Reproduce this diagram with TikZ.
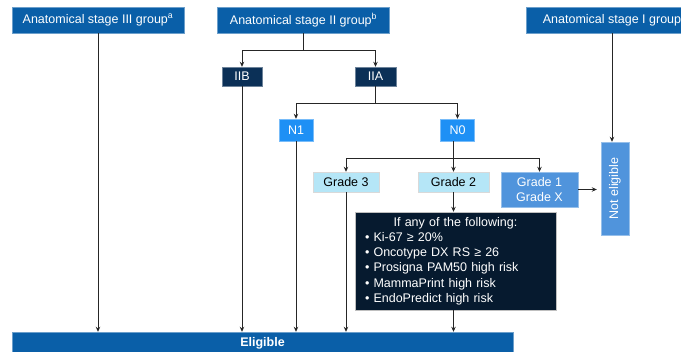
\documentclass[tikz,border=0pt]{standalone}
\usepackage{fontspec}
\setmainfont{Liberation Sans}
\usetikzlibrary{arrows.meta,positioning,calc}
\definecolor{sBlue}{HTML}{0A5FA8}
\definecolor{sNavy}{HTML}{0B3057}
\definecolor{sInk}{HTML}{061A2F}
\definecolor{sBright}{HTML}{1E90F5}
\definecolor{sMid}{HTML}{5094DC}
\definecolor{sPale}{HTML}{B5E6F7}
\tikzset{
  >={Stealth[length=5pt,width=4.5pt]},
  stagebox/.style={rectangle,fill=sBlue,draw=sBlue!60!white,text=white,align=center,inner sep=0pt,minimum width=172pt,minimum height=26pt},
  subbox/.style  ={rectangle,fill=sNavy,draw=sNavy!60!white,text=white,inner sep=0pt,minimum height=19pt},
  nbox/.style    ={rectangle,fill=sBright,draw=sBright!60!white,text=white,inner sep=0pt,minimum width=34pt,minimum height=22pt},
  gradebox/.style={rectangle,fill=sPale,draw=gray!30,text=black,inner sep=0pt,minimum height=20pt},
  outbox/.style  ={rectangle,fill=sMid,draw=sMid!60!white,text=white,align=center,inner sep=0pt},
  critbox/.style ={rectangle,fill=sInk,draw=gray!50,text=white,align=left,text width=181pt,inner xsep=10pt,inner ysep=0pt,minimum height=98pt},
  link/.style    ={->,line width=0.8pt,black!85},
  wire/.style    ={line width=0.8pt,black!85},
}

\begin{document}
\begin{tikzpicture}[x=1pt,y=-1pt,font=\fontsize{12.5}{15.2}\selectfont]
  \useasboundingbox (0,0) rectangle (681,352);

  % stage groups
  \node[stagebox] (s3) at (98,20)    {Anatomical stage III group\textsuperscript{a}};
  \node[stagebox] (s2) at (303.5,20) {Anatomical stage II group\textsuperscript{b}};
  \node[stagebox] (s1) at (612,20)   {Anatomical stage I group};

  \node[subbox,minimum width=40pt] (iib) at (242,76.5)   {IIB};
  \node[subbox,minimum width=41pt] (iia) at (375.5,76.5) {IIA};

  \node[nbox] (n1) at (296,130)   {N1};
  \node[nbox] (n0) at (457.5,130) {N0};

  \node[gradebox,minimum width=66pt] (g3) at (346,182)   {Grade 3};
  \node[gradebox,minimum width=71pt] (g2) at (453.5,182) {Grade 2};
  \node[outbox,minimum width=77pt,minimum height=35pt] (g1) at (539.5,189.5) {Grade 1\\Grade X};
  \node[outbox,minimum width=28pt,minimum height=93pt] (ne) at (615,188.5) {\rotatebox{90}{Not eligible}};

  \node[critbox] (crit) at (455.5,261)
        {\makebox[181pt]{If any of the following:}\\
         \textbullet\ Ki-67 ≥ 20\%\\
         \textbullet\ Oncotype DX RS ≥ 26\\
         \textbullet\ Prosigna PAM50 high risk\\
         \textbullet\ MammaPrint high risk\\
         \textbullet\ EndoPredict high risk};

  \node[stagebox,minimum width=501pt,minimum height=22pt,font=\fontsize{12.5}{14}\selectfont\bfseries] (elig) at (262.5,343) {Eligible};

  % branches
  \draw[wire] (s2.south) -- ++(0,17) coordinate (j2);
  \draw[link] (j2) -| (iib.north);
  \draw[link] (j2) -| (iia.north);

  \draw[wire] (iia.south) -- ++(0,17) coordinate (ja);
  \draw[link] (ja) -| (n1.north);
  \draw[link] (ja) -| (n0.north);

  \draw[wire] (n0.south -| g2.north) -- ++(0,17) coordinate (jn);
  \draw[link] (jn) -| (g3.north);
  \draw[link] (jn) -- (g2.north);
  \draw[link] (jn) -| (g1.north);

  \draw[link] (s1.south) -- (s1.south |- ne.north);
  \draw[link,shorten >=4pt] (g1.east) -- (g1.east -| ne.west);
  \draw[link] (g2.south) -- (g2.south |- crit.north);

  % to eligible
  \draw[link] (s3.south) -- (s3.south |- elig.north);
  \draw[link] (iib.south) -- (iib.south |- elig.north);
  \draw[link] (n1.south) -- (n1.south |- elig.north);
  \draw[link] (g3.south) -- (g3.south |- elig.north);
  \draw[link] (crit.south -| g2.south) -- (g2.south |- elig.north);
\end{tikzpicture}
\end{document}
